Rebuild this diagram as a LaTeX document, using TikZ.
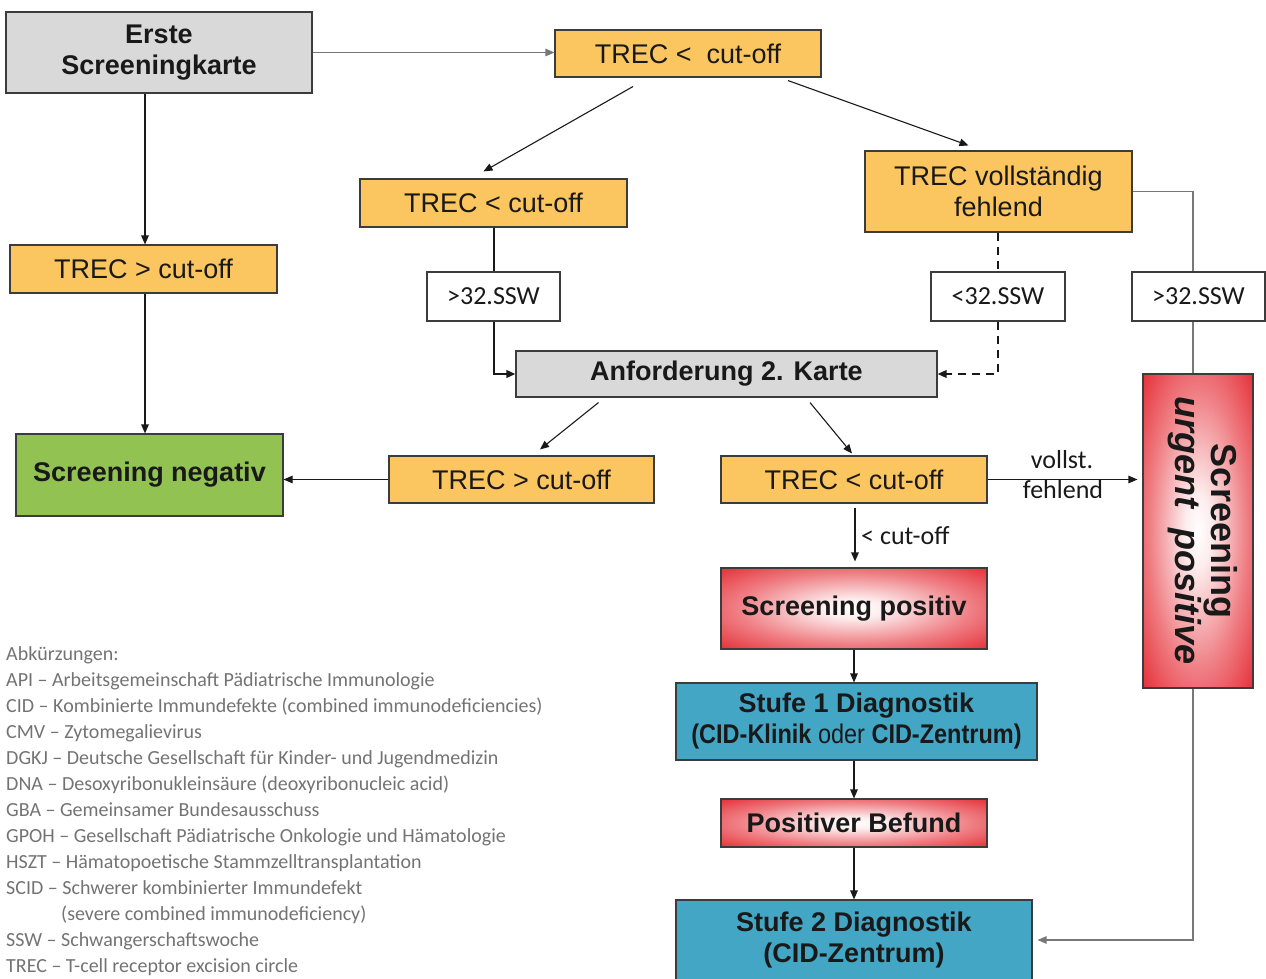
\documentclass[tikz,border=0pt]{standalone}
\usepackage{fontspec}
\usepackage{graphicx}
\setmainfont{Liberation Sans}
\newfontfamily\lblfont{Carlito}
\usetikzlibrary{arrows.meta,calc}
\definecolor{gfill}{RGB}{217,217,217}
\definecolor{ofill}{RGB}{251,197,96}
\definecolor{grfill}{RGB}{146,195,82}
\definecolor{bfill}{RGB}{66,166,196}
\definecolor{gred}{RGB}{226,22,32}
\definecolor{bline}{RGB}{60,60,60}
\definecolor{txt}{RGB}{25,25,25}
\definecolor{legc}{RGB}{115,115,115}
\definecolor{lgray}{RGB}{120,120,120}
\pgfdeclareradialshading{redglow}{\pgfpoint{0bp}{0bp}}{color(0bp)=(white); color(6bp)=(gred!8); color(22bp)=(gred!55); color(40bp)=(gred); color(50bp)=(gred)}
\begin{document}
\begin{tikzpicture}[x=1pt,y=-1pt,
  box/.style={draw=bline, line width=1.1pt, inner sep=0pt, align=center, text=txt,
    font=\fontsize{27pt}{31pt}\selectfont},
  obox/.style={box, fill=ofill},
  gbox/.style={box, fill=gfill, font=\fontsize{27pt}{31pt}\selectfont\bfseries},
  grbox/.style={box, fill=grfill, font=\fontsize{27pt}{31pt}\selectfont\bfseries},
  bbox/.style={box, fill=bfill, font=\fontsize{27pt}{31pt}\selectfont\bfseries},
  rbox/.style={box, shade, shading=redglow, font=\fontsize{27pt}{31pt}\selectfont\bfseries},
  wbox/.style={box, fill=white, font=\lblfont\fontsize{26pt}{30pt}\selectfont},
  lbl/.style={inner sep=0pt, text=txt, font=\lblfont\fontsize{26pt}{30pt}\selectfont},
  leg/.style={inner sep=0pt, anchor=base west, text=legc, font=\lblfont\fontsize{20pt}{24pt}\selectfont},
  arr/.style={-{Triangle[length=9pt,width=7.5pt]}, line width=1.1pt, draw=txt},
  conn/.style={line width=1.1pt, draw=txt},
  thickc/.style={line width=2pt, draw=txt},
  dashc/.style={line width=2pt, draw=txt, dash pattern=on 8pt off 6pt},
  gline/.style={line width=1.2pt, draw=lgray},
]
\useasboundingbox (0,0) rectangle (1266,979);
\clip (0,0) rectangle (1266,979);

% boxes
\node[gbox, minimum width=306pt, minimum height=81pt] (erste) at (159,52.5) {Erste\\Screeningkarte};
\node[obox, minimum width=266pt, minimum height=47pt] (t1) at (688,53.5) {TREC <\ \ cut-off};
\node[obox, minimum width=267pt, minimum height=48pt] (tL) at (143.5,269) {TREC > cut-off};
\node[obox, minimum width=267pt, minimum height=48pt] (tM) at (493.5,203) {TREC < cut-off};
\node[obox, minimum width=267pt, minimum height=81pt] (tV) at (998.5,191.5) {TREC vollständig\\fehlend};
\node[wbox, minimum width=133pt, minimum height=49pt] (sL) at (493.5,296.5) {>32.SSW};
\node[wbox, minimum width=134pt, minimum height=49pt] (sM) at (998,296.5) {<32.SSW};
\node[wbox, minimum width=133pt, minimum height=49pt] (sR) at (1198.5,296.5) {>32.SSW};
\node[gbox, minimum width=421pt, minimum height=46pt] (anf) at (726.5,374) {Anforderung 2. Karte};
\node[grbox, minimum width=267pt, minimum height=82pt] (neg) at (149.5,475) {Screening negativ};
\node[obox, minimum width=265pt, minimum height=47pt] (tB1) at (521.5,479.5) {TREC > cut-off};
\node[obox, minimum width=266pt, minimum height=47pt] (tB2) at (854,479.5) {TREC < cut-off};
\node[rbox, minimum width=266pt, minimum height=81pt] (pos) at (854,608.5) {Screening positiv};
\node[rbox, minimum width=110pt, minimum height=314pt] (urg) at (1198,531) {};
\node[inner sep=0pt, align=center, text=txt, rotate=-90,
  font=\fontsize{36pt}{36pt}\selectfont\bfseries] (urgtxt) at ($(urg.center)+(5,0)$)
  {Screening\\\textit{urgent\ \ positive}};
\node[bbox, minimum width=361pt, minimum height=77pt] (st1) at (856.5,721.5) {Stufe 1 Diagnostik\\\scalebox{0.87}[1]{(CID-Klinik {\mdseries oder} CID-Zentrum)}};
\node[rbox, minimum width=266pt, minimum height=48pt] (bef) at (854,823) {Positiver Befund};
\node[bbox, minimum width=356pt, minimum height=80pt] (st2) at (854,940) {Stufe 2 Diagnostik\\(CID-Zentrum)};

% connectors
\coordinate (lx) at (145,0);
\coordinate (rx) at (1193,0);
\draw[arr, gline] (erste.east) -- (t1.west |- erste.east);
\draw[arr] (lx |- erste.south) -- (lx |- tL.north);
\draw[arr] (lx |- tL.south) -- (lx |- neg.north);
\draw[arr] ($(t1.south)+(-55,9)$) -- ($(tM.north)+(-10,-7)$);
\draw[arr] ($(t1.south)+(100,3)$) -- ($(tV.north)+(-30,-5)$);
\draw[thickc] (tM.south) -- (sL.north);
\draw[arr, thickc] (sL.south) |- (anf.west);
\draw[dashc] (sM |- tV.south) -- (sM.north);
\draw[arr, dashc] (sM.south) |- (anf.east);
\draw[gline] (tV.east) -| (rx |- sR.north);
\draw[gline] (rx |- sR.south) -- (rx |- urg.north);
\draw[arr, gline, shorten >=5pt] (rx |- urg.south) |- (st2.east);
\draw[arr] ($(anf.south)+(-128,5)$) -- ($(tB1.north)+(18.5,-6)$);
\draw[arr] ($(anf.south)+(83.5,5)$) -- ($(tB2.north)+(-2,-2)$);
\draw[arr] (tB1.west) -- (neg.east |- tB1.west);
\draw[arr, shorten >=5pt] (tB2.east) -- (urg.west |- tB2.east);
\node[lbl] (vl) at (1062,460) {vollst.};
\node[lbl] (fl) at (1063,490) {fehlend};
\draw[arr] ($(tB2.south)+(1,4)$) -- ($(pos.north)+(1,-6)$);
\node[lbl, anchor=west] (cl) at (861,536) {< cut-off};
\draw[arr] (pos.south) -- (pos.south |- st1.north);
\draw[arr] (bef.north |- st1.south) -- (bef.north);
\draw[arr] (bef.south) -- (bef.south |- st2.north);

% legend
\foreach \t [count=\i] in {{Abkürzungen:},
  {API – Arbeitsgemeinschaft Pädiatrische Immunologie},
  {CID – Kombinierte Immundefekte (combined immunodeficiencies)},
  {CMV – Zytomegalievirus},
  {DGKJ – Deutsche Gesellschaft für Kinder- und Jugendmedizin},
  {DNA – Desoxyribonukleinsäure (deoxyribonucleic acid)},
  {GBA – Gemeinsamer Bundesausschuss},
  {GPOH – Gesellschaft Pädiatrische Onkologie und Hämatologie},
  {HSZT – Hämatopoetische Stammzelltransplantation},
  {SCID – Schwerer kombinierter Immundefekt},
  {\hspace*{55pt}(severe combined immunodeficiency)},
  {SSW – Schwangerschaftswoche},
  {TREC – T-cell receptor excision circle}}
  \node[leg] (leg\i) at (6,{660.5+26*(\i-1)}) {\t};
\end{tikzpicture}
\end{document}
